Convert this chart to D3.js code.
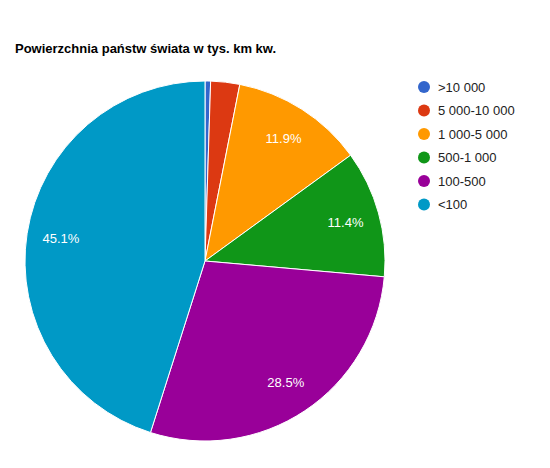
<!DOCTYPE html>
<html><head><meta charset="utf-8">
<script src="https://cdn.jsdelivr.net/npm/d3@7"></script>
<style>body{margin:0;background:#fff}</style></head>
<body><svg id="c" width="550" height="468"></svg>
<script>
const categories = [">10 000","5 000-10 000","1 000-5 000","500-1 000","100-500","<100"];
const values = [0.5, 2.6, 11.9, 11.4, 28.5, 45.1];
const colors = ["#3366cc","#dc3912","#ff9900","#109618","#990099","#0099c6"];
const svg = d3.select("#c");
svg.append("text").attr("x",15).attr("y",53).attr("font-family","Arial, Liberation Sans")
  .attr("font-size",13).attr("font-weight","bold").text("Powierzchnia państw świata w tys. km kw.");
const cx=205, cy=261, r=180;
const pie = d3.pie().sort(null).value(d=>d)(values);
const arc = d3.arc().innerRadius(0).outerRadius(r);
const g = svg.append("g").attr("transform",`translate(${cx},${cy})`);
g.selectAll("path").data(pie).join("path").attr("d",arc)
  .attr("fill",(d,i)=>colors[i]).attr("stroke","#fff").attr("stroke-width",1);
const lab = d3.arc().innerRadius(r*0.81).outerRadius(r*0.81);
g.selectAll("text").data(pie.filter(d=>d.value>5)).join("text")
  .attr("transform",d=>`translate(${lab.centroid(d)})`).attr("dy","0.35em")
  .attr("text-anchor","middle").attr("fill","#fff").attr("font-family","Arial, Liberation Sans")
  .attr("font-size",13).text(d=>d.value.toFixed(1)+"%");
const lg = svg.append("g");
categories.forEach((c,i)=>{
  const y=87+i*23.5;
  lg.append("circle").attr("cx",424).attr("cy",y).attr("r",6).attr("fill",colors[i]);
  lg.append("text").attr("x",438).attr("y",y).attr("dy","0.35em").attr("font-family","Arial, Liberation Sans")
    .attr("font-size",13).attr("fill","#222").text(c);
});
</script></body></html>
